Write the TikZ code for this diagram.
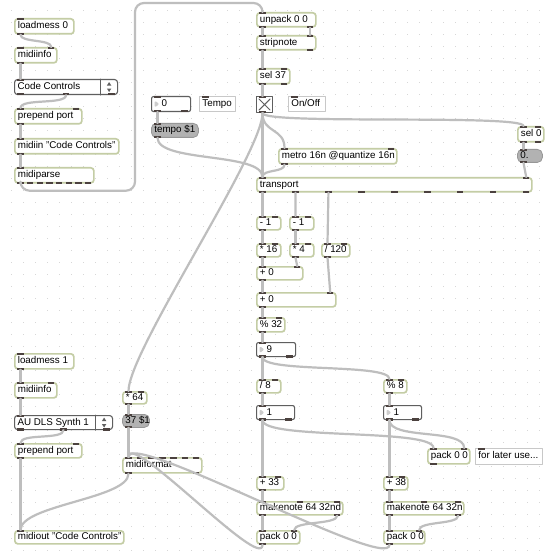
\documentclass[tikz,border=0pt]{standalone}
\usepackage{fontspec}
\setmainfont{Liberation Sans}
\usetikzlibrary{calc}

\definecolor{objline}{RGB}{196,205,165}
\definecolor{cordgray}{RGB}{190,190,190}
\definecolor{portdark}{RGB}{75,65,62}
\definecolor{msgfill}{RGB}{178,178,178}
\definecolor{numline}{RGB}{95,95,95}
\definecolor{griddot}{RGB}{215,215,215}
\definecolor{cmtline}{RGB}{200,200,200}

% inlets along the top, outlets along the bottom, as named coordinates
\newcommand\mxports[3]{%
  \foreach \k in {1,...,#2}{
    \pgfmathsetmacro\fr{(\k-1)/max(#2-1,1)}
    \coordinate (#1-i\k) at ($(#1.north west)!\fr!(#1.north east)+({6.5-13*\fr},0)$);
    \fill[port] ($(#1-i\k)+(-3.2,-0.4)$) rectangle +(6.4,2.4);
  }
  \ifnum#3>0
    \foreach \k in {1,...,#3}{
      \pgfmathsetmacro\fr{(\k-1)/max(#3-1,1)}
      \coordinate (#1-o\k) at ($(#1.south west)!\fr!(#1.south east)+({6.5-13*\fr},0)$);
      \fill[port] ($(#1-o\k)+(-3.2,0.4)$) rectangle +(6.4,-2.4);
    }
  \fi}

\begin{document}
\begin{tikzpicture}[x=1pt, y=-1pt, line cap=round, line join=round,
  box/.style={anchor=north west, inner xsep=3pt, inner ysep=0pt, text height=7pt, text depth=2pt,
    font=\fontsize{9.8}{11}\selectfont, /utils/exec={\pgfmathsetmacro\bw{#1-6}},
    execute at begin node={\hbox to \bw pt\bgroup}, execute at end node={\hss\egroup}},
  obj/.style 2 args={box=#1, minimum height=#2pt, draw=objline, line width=1.7pt, fill=white, rounded corners=3pt},
  msg/.style 2 args={box=#1, minimum height=#2pt, draw=msgfill!85!black, line width=0.8pt, fill=msgfill, rounded corners=5pt},
  cmt/.style 2 args={box=#1, minimum height=#2pt, draw=cmtline, line width=0.8pt, fill=white},
  umenu/.style 2 args={box=#1, minimum height=#2pt, draw=numline, line width=1.1pt, fill=white, rounded corners=3pt},
  num/.style 2 args={box=#1, minimum height=#2pt, draw=numline, line width=1.1pt, fill=white, rounded corners=2pt,
    execute at begin node={\hskip7pt},
    path picture={\fill[gray!40] ($(path picture bounding box.west)+(3,-3.5)$) -- +(5,3.5) -- +(0,7) -- cycle;}},
  tgl/.style={anchor=north west, minimum width=16pt, minimum height=16pt, inner sep=0pt, draw=numline,
    line width=1.1pt, fill=white,
    path picture={\draw[numline, line width=1pt]
      ($(path picture bounding box.north west)+(2.5,2.5)$) -- ($(path picture bounding box.south east)+(-2.5,-2.5)$)
      ($(path picture bounding box.north east)+(-2.5,2.5)$) -- ($(path picture bounding box.south west)+(2.5,-2.5)$);}},
  port/.style={fill=portdark},
  cord/.style={draw=cordgray, line width=2.2pt}]

\fill[white] (0,0) rectangle (550,553);
\useasboundingbox (0,0) rectangle (550,553);
\foreach \gx in {11,23,...,547} { \foreach \gy in {10,22,...,550} { \fill[griddot] (\gx,\gy) rectangle +(1.2,1.2); } }

% port selector, top left
\node[obj={59}{15}] (lm0) at (14,18) {loadmess 0};
\node[obj={42}{15}] (mi0) at (14,47) {midiinfo};
\node[umenu={103}{15}] (um0) at (14,79) {Code Controls};
\node[obj={67}{15}] (pp0) at (14,108) {prepend port};
\node[obj={104}{15}] (min) at (14,138) {midiin "Code Controls"};
\node[obj={79}{15}] (mpa) at (14,167) {midiparse};

% on/off and tempo
\node[obj={59}{14}] (unp) at (256,12) {unpack 0 0};
\node[obj={59}{14}] (stn) at (256,35) {stripnote};
\node[obj={33}{15}] (sel37) at (256,68) {sel 37};
\node[tgl] (tog) at (256,96) {};
\node[cmt={37}{15}] (onoff) at (288,96) {On/Off};
\node[num={39}{15}] (num0) at (151,96) {0};
\node[cmt={36}{15}] (tempo) at (199,96) {Tempo};
\node[msg={47}{14}] (tmp) at (151,123) {tempo \$1};
\node[obj={26}{15}] (sel0) at (517,126) {sel 0};
\node[msg={25}{13}] (zero) at (517,149) {0.};
\node[obj={118}{15}] (met) at (278,148) {metro 16n @quantize 16n};
\node[obj={275}{14}] (trs) at (256,177) {transport};

% step counter
\node[obj={24}{13}] (dec1) at (256,216) {- 1};
\node[obj={24}{13}] (dec2) at (289,216) {- 1};
\node[obj={24}{13}] (mul16) at (256,243) {* 16};
\node[obj={24}{13}] (mul4) at (289,243) {* 4};
\node[obj={28}{13}] (div120) at (321,243) {/ 120};
\node[obj={46}{13}] (addA) at (256,266) {+ 0};
\node[obj={79}{14}] (addB) at (256,292) {+ 0};
\node[obj={28}{14}] (mod32) at (256,317) {\% 32};
\node[num={39}{14}] (num9) at (256,342) {9};

% two voices
\node[obj={24}{13}] (div8) at (256,379) {/ 8};
\node[obj={23}{13}] (mod8) at (383,379) {\% 8};
\node[num={38}{14}] (numA) at (256,405) {1};
\node[num={38}{14}] (numB) at (383,405) {1};
\node[obj={42}{15}] (pkM) at (427,448) {pack 0 0};
\node[cmt={67}{16}] (later) at (475,448) {for later use...};
\node[obj={27}{13}] (add33) at (256,476) {+ 33};
\node[obj={24}{13}] (add38) at (383,476) {+ 38};
\node[obj={86}{13}] (mkA) at (256,501) {makenote 64 32nd};
\node[obj={80}{13}] (mkB) at (383,501) {makenote 64 32n};
\node[obj={43}{13}] (pkA) at (256,530) {pack 0 0};
\node[obj={41}{13}] (pkB) at (383,530) {pack 0 0};

% output, bottom left
\node[obj={59}{15}] (lm1) at (14,353) {loadmess 1};
\node[obj={42}{15}] (mi1) at (14,382) {midiinfo};
\node[umenu={98}{14}] (um1) at (14,415) {AU DLS Synth 1};
\node[obj={67}{14}] (pp1) at (14,443) {prepend port};
\node[obj={109}{13}] (mout) at (14,530) {midiout "Code Controls"};
\node[obj={24}{12}] (mul64) at (122,391) {* 64};
\node[msg={27}{13}] (m37) at (122,414) {37 \$1};
\node[obj={79}{15}] (mfm) at (122,457) {midiformat};

\foreach \u in {um0,um1} {
  \draw[numline, line width=0.8pt] ($(\u.north east)+(-18,0)$) -- ($(\u.south east)+(-18,0)$);
  \fill[numline] ($(\u.east)+(-9,-5)$) -- ++(2.2,3.5) -- ++(-4.4,0) -- cycle;
  \fill[numline] ($(\u.east)+(-9,5)$) -- ++(2.2,-3.5) -- ++(-4.4,0) -- cycle;
}

\foreach \n/\nin/\nout in {lm0/1/1, mi0/2/1, um0/1/3, pp0/2/1, min/1/1, mpa/1/8,
    unp/1/2, stn/2/2, sel37/2/2, tog/1/1, onoff/1/0, num0/1/2, tempo/1/0, tmp/1/1,
    sel0/2/2, zero/1/1, met/2/1, trs/2/9, dec1/2/1, dec2/2/1, mul16/2/1, mul4/2/1,
    div120/2/1, addA/2/1, addB/2/1, mod32/2/1, num9/1/2, div8/2/1, mod8/2/1,
    numA/1/2, numB/1/2, pkM/2/1, later/1/0, add33/2/1, add38/2/1, mkA/3/2, mkB/3/2,
    pkA/2/1, pkB/2/1, lm1/1/1, mi1/2/1, um1/1/3, pp1/2/1, mout/1/0, mul64/2/1,
    m37/1/1, mfm/7/2} { \mxports{\n}{\nin}{\nout} }

% patch cords
\draw[cord] (lm0-o1) .. controls +(0,8) and +(0,-8) .. (mi0-i2);
\draw[cord] (mi0-o1) -- (um0-i1);
\draw[cord] (um0-o2) .. controls +(0,10) and +(0,-10) .. (pp0-i1);
\draw[cord] (pp0-o1) -- (min-i1);
\draw[cord] (min-o1) -- (mpa-i1);
\coordinate (loopup) at (135,3);
\draw[cord, rounded corners=9pt] (mpa-o1) -- ++(0,7) -| (loopup) -| (unp-i1);

\draw[cord] (unp-o1) -- (stn-i1);
\draw[cord] (unp-o2) -- (stn-i2);
\draw[cord] (stn-o1) -- (sel37-i1);
\draw[cord] (sel37-o1) -- (tog-i1);
\draw[cord] (tog-o1) -- (trs-i1);
\draw[cord] (tog-o1) .. controls +(0,20) and +(0,-20) .. (met-i1);
\draw[cord] (tog-o1) .. controls +(0,12) and +(0,-12) .. (sel0-i1);
\draw[cord] (tog-o1) .. controls +(0,40) and +(0,-40) .. (mul64-i1);
\draw[cord] (num0-o1) -- (tmp-i1);
\draw[cord] (tmp-o1) .. controls +(0,25) and +(0,-25) .. (trs-i1);
\draw[cord] (met-o1) .. controls +(0,8) and +(0,-8) .. (trs-i1);
\draw[cord] (sel0-o1) -- (zero-i1);
\draw[cord] (zero-o1) -- (trs-i2);

\draw[cord] (trs-o1) -- (dec1-i1);
\draw[cord] (trs-o2) -- (dec2-i1);
\draw[cord] (trs-o3) -- (div120-i1);
\draw[cord] (dec1-o1) -- (mul16-i1);
\draw[cord] (dec2-o1) -- (mul4-i1);
\draw[cord] (mul16-o1) -- (addA-i1);
\draw[cord] (mul4-o1) -- (addA-i2);
\draw[cord] (addA-o1) -- (addB-i1);
\draw[cord] (div120-o1) -- (addB-i2);
\draw[cord] (addB-o1) -- (mod32-i1);
\draw[cord] (mod32-o1) -- (num9-i1);
\draw[cord] (num9-o1) -- (div8-i1);
\draw[cord] (num9-o1) .. controls +(0,16) and +(0,-16) .. (mod8-i1);

\draw[cord] (div8-o1) -- (numA-i1);
\draw[cord] (mod8-o1) -- (numB-i1);
\draw[cord] (numA-o1) -- (add33-i1);
\draw[cord] (numA-o1) .. controls +(0,20) and +(0,-20) .. (pkM-i1);
\draw[cord] (numB-o1) -- (add38-i1);
\draw[cord] (numB-o1) .. controls +(0,20) and +(0,-20) .. (pkM-i2);
\draw[cord] (add33-o1) -- (mkA-i1);
\draw[cord] (add38-o1) -- (mkB-i1);
\draw[cord] (mkA-o1) -- (pkA-i1);
\draw[cord] (mkA-o2) .. controls +(0,9) and +(0,-9) .. (pkA-i2);
\draw[cord] (mkB-o1) -- (pkB-i1);
\draw[cord] (mkB-o2) .. controls +(0,9) and +(0,-9) .. (pkB-i2);
\draw[cord] (pkA-o1) .. controls +(0,28) and +(0,-28) .. (mfm-i1);
\draw[cord] (pkB-o1) .. controls +(0,28) and +(0,-28) .. (mfm-i1);

\draw[cord] (lm1-o1) -- (mi1-i1);
\draw[cord] (mi1-o1) -- (um1-i1);
\draw[cord] (um1-o2) .. controls +(0,10) and +(0,-10) .. (pp1-i1);
\draw[cord] (pp1-o1) -- (mout-i1);
\draw[cord] (mul64-o1) -- (m37-i1);
\draw[cord] (m37-o1) -- (mfm-i1);
\draw[cord] (mfm-o1) .. controls +(0,25) and +(0,-25) .. (mout-i1);
\end{tikzpicture}
\end{document}
